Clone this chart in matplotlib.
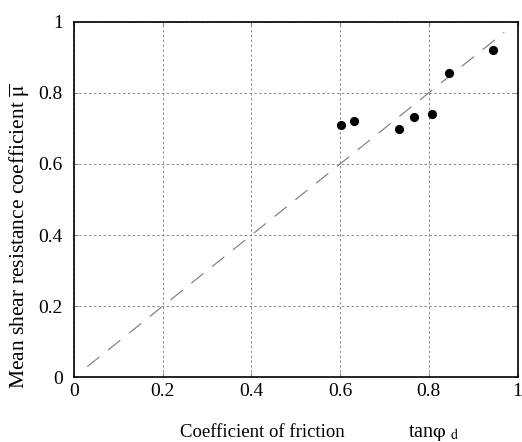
import matplotlib
matplotlib.use('Agg')
import numpy as np
import matplotlib.pyplot as plt

plt.rcParams['font.family'] = 'Liberation Serif'
plt.rcParams['mathtext.fontset'] = 'stix'

# measured points
tan_phi = [0.601, 0.631, 0.733, 0.766, 0.808, 0.845, 0.945]
mu_mean = [0.709, 0.721, 0.699, 0.732, 0.741, 0.855, 0.920]

# 1:1 reference line
line_x = [0.03, 0.97]
line_y = [0.03, 0.97]

ticks = [0, 0.2, 0.4, 0.6, 0.8, 1]
tick_labels = ['0', '0.2', '0.4', '0.6', '0.8', '1']

fig = plt.figure(figsize=(5.22, 4.42), dpi=100)
ax = fig.add_axes([0.1418, 0.1464, 0.8496, 0.8046])

ax.plot(line_x, line_y, color='#777777', lw=0.8, dashes=(14, 10))
ax.plot(tan_phi, mu_mean, 'o', color='black', ms=5.6, zorder=3)

ax.set_xlim(0, 1)
ax.set_ylim(0, 1)
ax.set_xticks(ticks)
ax.set_yticks(ticks)
ax.set_xticklabels(tick_labels, fontsize=14)
ax.set_yticklabels(tick_labels, fontsize=14)
ax.tick_params(direction='in', length=3, width=0.8, color='#888888',
               top=True, right=True)
ax.tick_params(axis='x', pad=4)
ax.tick_params(axis='y', pad=8)
ax.grid(True, color='#888888', lw=0.7, dashes=(2.5, 2.5))
for s in ax.spines.values():
    s.set_linewidth(1.2)

fig.text(180 / 522, 5 / 442, 'Coefficient of friction',
         ha='left', va='baseline', fontsize=13.5)
fig.text(408 / 522, 5 / 442, r'tan$\mathrm{\varphi}$ $_{\mathrm{d}}$',
         ha='left', va='baseline', fontsize=14.5)
fig.text(0.038, 0.466, r'Mean shear resistance coefficient $\overline{\mathrm{\mu}}$',
         ha='center', va='center', rotation=90, fontsize=15.5)

fig.savefig('out.png', dpi=100)
